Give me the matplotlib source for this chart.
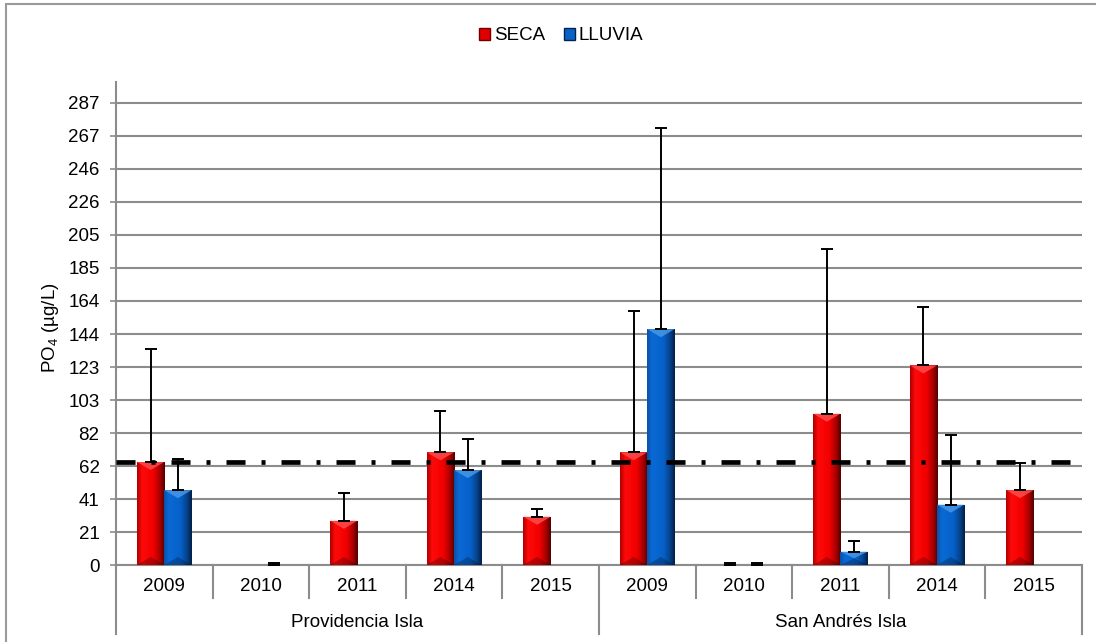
import numpy as np
import matplotlib
matplotlib.use("Agg")
import matplotlib.pyplot as plt
from matplotlib.colors import LinearSegmentedColormap
from matplotlib.patches import Polygon, Patch, Rectangle
import matplotlib.transforms as mtransforms

plt.rcParams['font.family'] = ['Liberation Sans', 'DejaVu Sans']
plt.rcParams['lines.scale_dashes'] = False

# PO4 means per site / year, dry (SECA) and rainy (LLUVIA) season
sites = ['Providencia Isla', 'San Andrés Isla']
years = ['2009', '2010', '2011', '2014', '2015']
nan = np.nan
seca = [64, nan, 27.5, 70, 30, 70, 0.3, 94, 124, 46.5]
seca_err = [70, nan, 17, 25.5, 4.5, 88, 1.1, 102, 36, 17]
lluvia = [46.5, 0.3, nan, 59, nan, 146.5, 0.3, 8.3, 37.5, nan]
lluvia_err = [19.5, 1.1, nan, 19, nan, 125, 1.1, 6.8, 43.5, nan]
limite = 64

yticks = [i * 20.5 for i in range(15)]
ytick_labels = ['0', '21', '41', '62', '82', '103', '123', '144', '164',
                '185', '205', '226', '246', '267', '287']

GRAY = '#8c8c8c'
FS = 13.5

red_cmap = LinearSegmentedColormap.from_list(
    'rojo', [(0, '#b00000'), (0.18, '#ff0a0a'), (0.6, '#f00000'),
             (0.85, '#a00000'), (1, '#500000')])
blue_cmap = LinearSegmentedColormap.from_list(
    'azul', [(0, '#0a50a8'), (0.18, '#0a6ad6'), (0.6, '#0660c8'),
             (0.85, '#063f85'), (1, '#021e45')])


def bevel_bars(ax, x, heights, width, cmap, top_color, flat_color):
    bars = ax.bar(x, heights, width, color='none', edgecolor='none', zorder=3)
    grad = np.linspace(0, 1, 64).reshape(1, -1)
    for rect in bars:
        h = rect.get_height()
        if not np.isfinite(h):
            continue
        x0, w = rect.get_x(), rect.get_width()
        if h <= 0.5:
            rect.set_facecolor(flat_color)
            continue
        im = ax.imshow(grad, cmap=cmap, extent=(x0, x0 + w, 0, h),
                       aspect='auto', interpolation='bicubic', zorder=3)
        im.set_clip_path(rect)
        th = min(5, h / 2)
        ax.add_patch(Polygon([(x0, h), (x0 + w, h), (x0 + w / 2, h - th)],
                             closed=True, fc=top_color, ec='none',
                             alpha=0.8, zorder=3.1))
        ax.add_patch(Polygon([(x0, 0), (x0 + w, 0), (x0 + w / 2, th)],
                             closed=True, fc='black', ec='none',
                             alpha=0.25, zorder=3.1))
    return bars


fig = plt.figure(figsize=(10.96, 6.42), dpi=100)
ax = fig.add_axes([0.1058, 0.1199, 0.8814, 0.7523])

n = len(seca)
x = np.arange(n)
w = 0.282
bevel_bars(ax, x - w / 2, seca, w, red_cmap, '#ff5050', '#ff4040')
bevel_bars(ax, x + w / 2, lluvia, w, blue_cmap, '#4a9be8', '#5a9ee0')

ax.errorbar(x - w / 2, seca, yerr=[np.zeros(n), seca_err], fmt='none',
            ecolor='black', elinewidth=1.4, capsize=4, capthick=1.4, zorder=5)
ax.errorbar(x + w / 2, lluvia, yerr=[np.zeros(n), lluvia_err], fmt='none',
            ecolor='black', elinewidth=1.4, capsize=4, capthick=1.4, zorder=5)

# reference level
ax.axhline(limite, color='black', lw=3.4, dashes=(13.7, 11.5, 2.9, 11.5),
           solid_capstyle='butt', dash_capstyle='butt', zorder=4)

ax.set_xlim(-0.5, n - 0.5)
ax.set_ylim(0, 300)
ax.set_yticks(yticks)
ax.set_yticklabels(ytick_labels, fontsize=FS)
ax.set_xticks([])
ax.yaxis.grid(True, color=GRAY, lw=1.5, zorder=0)
ax.set_axisbelow(True)
for s in ['top', 'right']:
    ax.spines[s].set_visible(False)
for s in ['left', 'bottom']:
    ax.spines[s].set_color(GRAY)
    ax.spines[s].set_linewidth(1.5)
ax.tick_params(axis='y', length=4.3, width=1.2, color=GRAY, pad=7.5)

# two-level category axis
trans = mtransforms.blended_transform_factory(ax.transData, ax.transAxes)
for i in range(n):
    ax.text(i, -0.0455, years[i % len(years)], transform=trans,
            ha='center', va='center', fontsize=FS)
for i in range(1, n):
    depth = -0.143 if i % len(years) == 0 else -0.0683
    ax.plot([i - 0.5, i - 0.5], [0, depth], transform=trans, color=GRAY,
            lw=1.5, clip_on=False)
for edge in [-0.5, n - 0.5]:
    ax.plot([edge, edge], [0, -0.143], transform=trans, color=GRAY,
            lw=1.5, clip_on=False)
for j, site in enumerate(sites):
    ax.text(j * len(years) + (len(years) - 1) / 2, -0.118, site,
            transform=trans, ha='center', va='center', fontsize=FS)

fig.text(0.046, 0.489, 'PO$_\\mathregular{4}$ (µg/L)', rotation=90,
         ha='center', va='center', fontsize=FS)

handles = [Patch(facecolor='#e00000', edgecolor='#700000', label='SECA'),
           Patch(facecolor='#0a62c8', edgecolor='#02224d', label='LLUVIA')]
fig.legend(handles=handles, loc='center', bbox_to_anchor=(0.512, 0.944),
           ncol=2, frameon=False, fontsize=FS, handlelength=0.6,
           handleheight=0.6, handletextpad=0.2, columnspacing=1.0)

fig.patches.append(Rectangle((0.0055, -0.1), 1.2, 1.0938,
                             transform=fig.transFigure, fill=False,
                             edgecolor='#9a9a9a', lw=1.5))

fig.savefig('out.png', dpi=100)
